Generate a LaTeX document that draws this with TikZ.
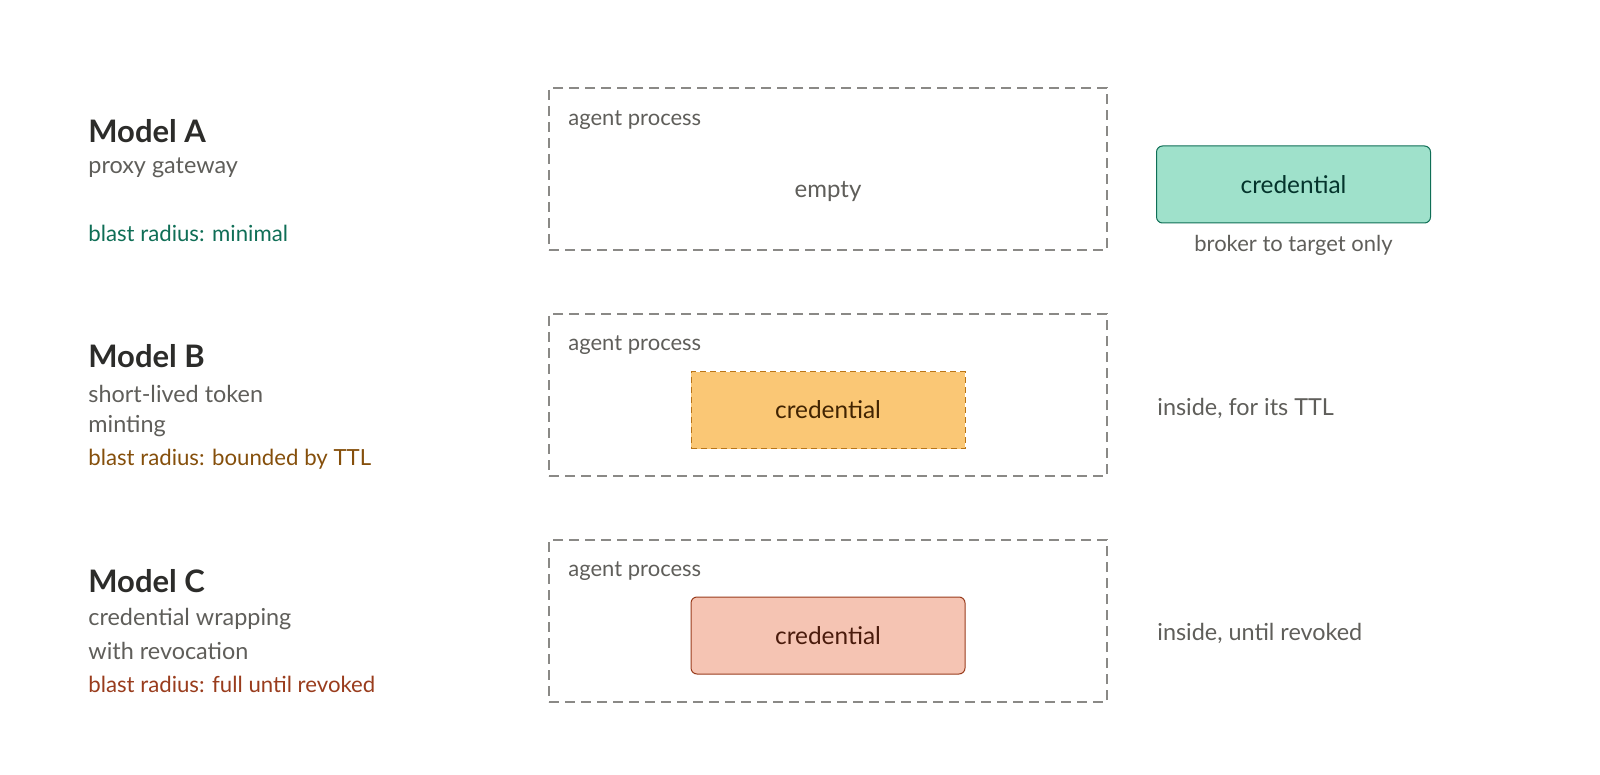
\documentclass[tikz,border=0pt]{standalone}
\usepackage{fontspec}
\setmainfont{Lato}
\usetikzlibrary{positioning}
\usepackage{xcolor}
\definecolor{inkdark}{HTML}{2C2C2A}
\definecolor{inkgray}{HTML}{5F5E5A}
\definecolor{boxgray}{HTML}{8A8986}
\definecolor{tealfill}{HTML}{9FE1CB}
\definecolor{tealline}{HTML}{0F6E56}
\definecolor{tealtext}{HTML}{04342C}
\definecolor{amberfill}{HTML}{FAC775}
\definecolor{amberline}{HTML}{BA7517}
\definecolor{ambertext}{HTML}{412402}
\definecolor{amberlabel}{HTML}{854F0B}
\definecolor{coralfill}{HTML}{F5C4B3}
\definecolor{coralline}{HTML}{993C1D}
\definecolor{coraltext}{HTML}{4A1B0C}

\begin{document}
\begin{tikzpicture}[x=0.5pt, y=-0.5pt,
  title/.style={anchor=west, inner sep=0pt, font=\fontsize{15.5}{18}\selectfont\bfseries, text=inkdark},
  sub/.style={anchor=west, inner sep=0pt, font=\fontsize{11.7}{14}\selectfont, text=inkgray},
  blast/.style={anchor=west, inner sep=0pt, font=\fontsize{11.1}{13}\selectfont},
  process/.style={draw=boxgray, line width=0.8pt, dash pattern=on 5pt off 3pt, minimum width=279pt, minimum height=81pt, inner sep=0pt},
  small/.style={inner sep=0pt, font=\fontsize{11}{13}\selectfont, text=inkgray},
  cred/.style={minimum width=137pt, minimum height=38.5pt, inner sep=0pt, line width=0.5pt, font=\fontsize{12.2}{14}\selectfont}
]
\useasboundingbox (0,0) rectangle (1600,775);

% Model A
\node[title] (titleA) at (88,131) {Model A};
\node[sub] (subA) at (88,168) {proxy gateway};
\node[blast, text=tealline] (blastA) at (88,233) {blast radius: minimal};
\node[process] (procA) at (828,169) {};
\node[small, anchor=west] (labelA) at (568,120) {agent process};
\node[sub, anchor=center, font=\fontsize{12}{14}\selectfont] (emptyA) at (828,192) {empty};
\node[cred, draw=tealline, fill=tealfill, text=tealtext, rounded corners=3pt] (credA) at (1293.5,184.5) {credential};
\node[small, below=11pt of credA.south, anchor=center] (brokerA) {broker to target only};

% Model B
\node[title] (titleB) at (88,356) {Model B};
\node[sub] (subB) at (88,394) {short-lived token};
\node[sub] (subB2) at (88,426) {minting};
\node[blast, text=amberlabel] (blastB) at (88,459) {blast radius: bounded by TTL};
\node[process] (procB) at (828,395) {};
\node[small, anchor=west] (labelB) at (568,345) {agent process};
\node[cred, draw=amberline, fill=amberfill, text=ambertext, dash pattern=on 3pt off 2pt] (credB) at (828,410) {credential};
\node[sub] (insideB) at (1157,408) {inside, for its TTL};

% Model C
\node[title] (titleC) at (88,581) {Model C};
\node[sub] (subC) at (88,619) {credential wrapping};
\node[sub] (subC2) at (88,651) {with revocation};
\node[blast, text=coralline] (blastC) at (88,684) {blast radius: full until revoked};
\node[process] (procC) at (828,621) {};
\node[small, anchor=west] (labelC) at (568,571) {agent process};
\node[cred, draw=coralline, fill=coralfill, text=coraltext, rounded corners=3pt] (credC) at (828,635.5) {credential};
\node[sub] (insideC) at (1157,633) {inside, until revoked};

\end{tikzpicture}
\end{document}
